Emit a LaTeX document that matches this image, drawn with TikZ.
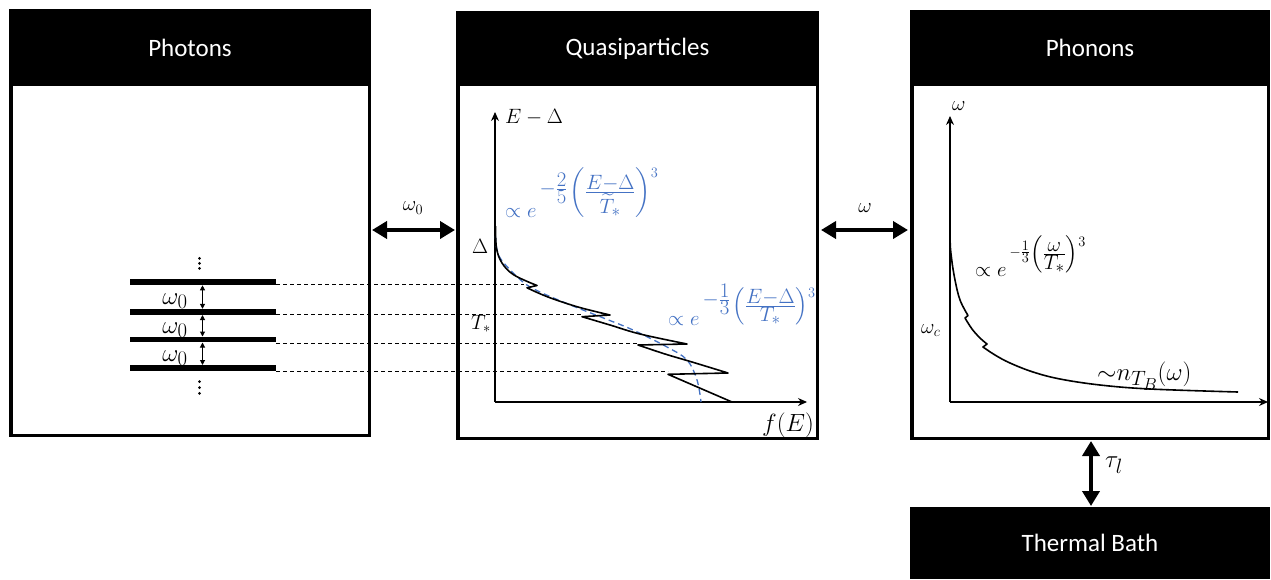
\documentclass[tikz,border=0pt]{standalone}
\usepackage{amsmath}
\usepackage[no-math]{fontspec}
\newfontfamily\hdrfont{Carlito}
\usetikzlibrary{arrows.meta}
\definecolor{qblue}{HTML}{4472C4}
\newcommand{\smallexp}[2]{\raisebox{#1}{\fontsize{20.74}{24}\selectfont$\scriptstyle #2$}}
\newcommand{\bigexp}[2]{\raisebox{#1}{\fontsize{24.88}{28}\selectfont$\scriptstyle #2$}}
\begin{document}
\begin{tikzpicture}[x=1pt,y=-1pt,
  panel/.style={draw=black,line width=3.5pt,fill=white,inner sep=0pt,outer sep=0pt},
  header/.style={fill=black,inner sep=0pt,outer sep=0pt,anchor=north west,text=white,font=\hdrfont\fontsize{25}{30}\selectfont},
  bigarrow/.style={line width=4pt,{Triangle[length=15pt,width=17pt]}-{Triangle[length=15pt,width=17pt]}},
  axis/.style={line width=1.1pt,-{Stealth[length=9pt,width=8pt]}},
  curve/.style={line width=1.6pt,line join=round},
  bluedash/.style={qblue,line width=1.3pt,dash pattern=on 6pt off 4pt},
  guide/.style={line width=0.8pt,dash pattern=on 4pt off 3pt},
  level/.style={line width=5.5pt},
  small/.style={line width=1pt,{Triangle[length=5pt,width=5pt]}-{Triangle[length=5pt,width=5pt]}},
  mlabel/.style={font=\fontsize{20}{24}\selectfont,inner sep=0pt},
  blabel/.style={font=\fontsize{24.88}{28}\selectfont,inner sep=0pt},
  blab/.style={text=qblue,font=\fontsize{20.74}{24}\selectfont,inner sep=0pt,anchor=base west},
  dot/.style={fill=black,radius=1.5pt},
]
\useasboundingbox (0,0) rectangle (1271,579);

% panels
\node[panel,minimum width=358.5,minimum height=424.5] (ph) at (190,223) {};
\node[panel,minimum width=359.5,minimum height=425.5] (qp) at (637.5,225.5) {};
\node[panel,minimum width=356.5,minimum height=426.5] (pn) at (1090,225) {};
\node[header,minimum width=362,minimum height=77] (phH) at (9,9) {Photons};
\node[header,minimum width=363,minimum height=75] (qpH) at (456,11) {Quasiparticles};
\node[header,minimum width=360,minimum height=76] (pnH) at (910,10) {Phonons};
\node[header,minimum width=360,minimum height=72] (tb) at (910,507) {Thermal Bath};

% connecting arrows
\coordinate (w0a) at (372,230); \coordinate (w0b) at (455,230);
\draw[bigarrow] (w0a) -- (w0b);
\node[mlabel] (w0l) at (413,208) {$\omega_0$};
\coordinate (wa) at (821,230); \coordinate (wb) at (908,230);
\draw[bigarrow] (wa) -- (wb);
\node[mlabel] (wl) at (865,208) {$\omega$};
\coordinate (ta) at (1091,441); \coordinate (tb2) at (1091,506);
\draw[bigarrow] (ta) -- (tb2);
\node[blabel,anchor=west] (tl) at (1105,465) {$\tau_l$};

% photon levels
\foreach \i/\y in {1/282,2/312,3/339.5,4/368}{
  \coordinate (L\i a) at (130,\y); \coordinate (L\i b) at (275.5,\y);
  \draw[level] (L\i a) -- (L\i b);
}
\foreach \y in {258.3,263.3,268.3,381.7,387.5,393.3}{
  \fill[dot] (199.5,\y) circle;
}
\coordinate (s1a) at (202.5,285.3); \coordinate (s1b) at (202.5,308.8);
\coordinate (s2a) at (202.5,315);   \coordinate (s2b) at (202.5,336.5);
\coordinate (s3a) at (202.5,342.5); \coordinate (s3b) at (202.5,365);
\draw[small] (s1a) -- (s1b);
\draw[small] (s2a) -- (s2b);
\draw[small] (s3a) -- (s3b);
\node[blabel,anchor=base] (o1) at (175,304) {$\omega_0$};
\node[blabel,anchor=base] (o2) at (175,333) {$\omega_0$};
\node[blabel,anchor=base] (o3) at (175,361) {$\omega_0$};
\draw[level] (L3a) -- (L3b);
\draw[level] (L4a) -- (L4b);

% guide lines
\coordinate (g1) at (276,284.5); \coordinate (c1) at (524,284.5);
\coordinate (g2) at (276,314.3); \coordinate (c2) at (582,314.3);
\coordinate (g3) at (276,343);   \coordinate (c3) at (638,343);
\coordinate (g4) at (276,371.8); \coordinate (c4) at (668,371.8);
\draw[guide] (g1) -- (c1);
\draw[guide] (g2) -- (c2);
\draw[guide] (g3) -- (c3);
\draw[guide] (g4) -- (c4);

% quasiparticle axes
\coordinate (qO) at (495,402); \coordinate (qY) at (495,112); \coordinate (qX) at (807,402);
\draw[axis] (qO) -- (qY);
\draw[axis] (qO) -- (qX);
\node[mlabel,anchor=base west] (qyl) at (505,123) {$E-\Delta$};
\node[blabel,anchor=base west] (qxl) at (762,431) {$f(E)$};
\node[mlabel,anchor=base west] (dl) at (472,253) {$\Delta$};
\node[mlabel,anchor=base west] (tsl) at (471,329) {$T_*$};

% blue fit
\draw[bluedash] plot[smooth,tension=0.6] coordinates {(495.5,236) (497,250) (503,262) (523,282) (540,292) (573,306) (606,319) (633,330) (667,347) (687,360) (697,380) (701,402)};
% black distribution
\draw[curve] plot[smooth,tension=0.6] coordinates {(495.5,226) (496.5,248) (502,263) (514,275) (537,285.5)}
  -- plot[smooth,tension=0.6] coordinates {(527,287.8) (548,297) (578,307) (610,315)}
  -- plot[smooth,tension=0.6] coordinates {(582,316.7) (610,325) (640,334) (687,344)}
  -- plot[smooth,tension=0.6] coordinates {(638,345) (665,354) (692,362) (728,373)}
  -- (668,374.3) -- (732,402);

\node[blab] (la) at (505,217) {$\propto e$\hspace{3pt}\bigexp{22.7pt}{-\frac{\scriptstyle 2}{\scriptstyle 5}}\hspace{2pt}\bigexp{19.5pt}{\left(\frac{\scriptstyle E-\Delta}{\scriptstyle \widetilde{T}_*}\right)}\smallexp{39.5pt}{3}};
\node[blab] (lb) at (668,325) {$\propto e$\hspace{3pt}\bigexp{19.7pt}{-\frac{\scriptstyle 1}{\scriptstyle 3}}\hspace{2pt}\bigexp{13.7pt}{\left(\frac{\scriptstyle E-\Delta}{\scriptstyle T_*}\right)}\smallexp{27.6pt}{3}};

% phonon axes
\coordinate (pO) at (950,402); \coordinate (pY) at (950,116); \coordinate (pX) at (1268,402);
\draw[axis] (pO) -- (pY);
\draw[axis] (pO) -- (pX);
\node[mlabel,anchor=base west] (pyl) at (952,110) {$\omega$};
\node[mlabel,anchor=base west] (wcl) at (921,333) {$\omega_c$};
\draw[curve] plot[smooth,tension=0.6] coordinates {(950,165) (950,235) (951.5,258) (955,280) (960,300) (968,315.5)}
  -- plot[smooth,tension=0.6] coordinates {(965,318) (972,329) (980,338) (987,344)}
  -- plot[smooth,tension=0.6] coordinates {(983,347) (995,355) (1010,363) (1033,372) (1060,379) (1100,385) (1150,389) (1238,392)};
\node[blab,text=black] (lc) at (975,276) {$\propto e$\hspace{3pt}\smallexp{19.7pt}{-\frac{\scriptstyle 1}{\scriptstyle 3}}\bigexp{16.7pt}{\left(\frac{\scriptstyle \omega}{\scriptstyle T_*}\right)}\smallexp{29.6pt}{3}};
\node[blabel,anchor=base west] (ln) at (1097,380) {$\mathord{\sim}n_{T_B}(\omega)$};
\end{tikzpicture}
\end{document}
